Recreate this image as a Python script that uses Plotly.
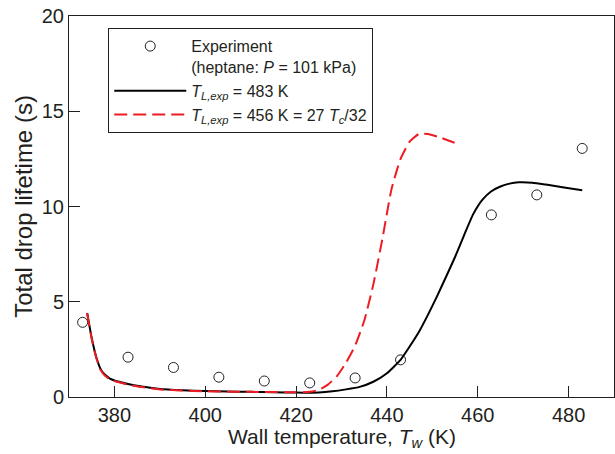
import plotly.graph_objects as go

# Experimental data (heptane, P = 101 kPa)
exp_T = [373, 383, 393, 403, 413, 423, 433, 443, 463, 473, 483]
exp_life = [3.92, 2.09, 1.55, 1.04, 0.84, 0.74, 1.0, 1.95, 9.56, 10.61, 13.05]

# Model, T_L,exp = 483 K
m483_T = [374, 375, 376, 377, 378, 379, 381, 383, 386, 390, 395, 400, 405, 410, 415,
          420, 425, 428, 431, 434, 437, 440, 443, 445, 447, 449, 451, 453, 455, 457,
          459, 461, 463, 465, 467, 469, 472, 475, 479, 483]
m483_life = [4.4, 3.1, 2.1, 1.45, 1.15, 0.97, 0.8, 0.68, 0.55, 0.42, 0.35, 0.31, 0.29,
             0.27, 0.25, 0.23, 0.24, 0.3, 0.4, 0.53, 0.8, 1.25, 1.95, 2.65, 3.4, 4.3,
             5.27, 6.3, 7.35, 8.5, 9.6, 10.35, 10.8, 11.05, 11.2, 11.27, 11.25, 11.15,
             11.0, 10.85]

# Model, T_L,exp = 456 K = 27 Tc/32
m456_T = [374, 375, 376, 377, 378, 379, 381, 383, 386, 390, 395, 400, 405, 410, 415,
          420, 423, 425, 427, 429, 431, 433, 435, 437, 439, 441, 443, 445, 447, 449,
          452, 456]
m456_life = [4.4, 3.05, 2.05, 1.4, 1.1, 0.93, 0.77, 0.65, 0.52, 0.4, 0.34, 0.3, 0.28,
             0.27, 0.26, 0.25, 0.27, 0.37, 0.65, 1.1, 1.8, 2.7, 4.0, 5.9, 8.3, 10.9,
             12.5, 13.4, 13.8, 13.8, 13.6, 13.25]

x_ticks = [380, 400, 420, 440, 460, 480]
y_ticks = [0, 5, 10, 15, 20]

INK = "#231f20"
RED = "#ed1c24"
FONT = "Liberation Sans, Arial, Helvetica, sans-serif"

fig = go.Figure()
fig.add_trace(go.Scatter(
    x=exp_T, y=exp_life, mode="markers",
    name="Experiment<br>(heptane: <i>P</i> = 101 kPa)",
    marker=dict(symbol="circle-open", size=10, color=INK, line=dict(width=1, color=INK)),
))
fig.add_trace(go.Scatter(
    x=m483_T, y=m483_life, mode="lines",
    name="<i>T</i><sub><i>L,exp</i></sub> = 483 K",
    line=dict(color="black", width=2, shape="spline", smoothing=0.5),
))
fig.add_trace(go.Scatter(
    x=m456_T, y=m456_life, mode="lines",
    name="<i>T</i><sub><i>L,exp</i></sub> = 456 K = 27 <i>T</i><sub><i>c</i></sub>/32",
    line=dict(color=RED, width=2, dash="13px,6px", shape="spline", smoothing=0.5),
))

fig.update_layout(
    width=615, height=454,
    margin=dict(l=69, r=1, t=16, b=57, autoexpand=False),
    paper_bgcolor="white", plot_bgcolor="white",
    font=dict(family=FONT, size=20, color=INK),
    showlegend=True,
    legend=dict(
        x=0.072, y=0.968, xanchor="left", yanchor="top",
        bgcolor="white", bordercolor=INK, borderwidth=1,
        font=dict(size=16, color=INK), valign="top",
        itemwidth=72, tracegroupgap=0,
    ),
    annotations=[dict(
        text="Wall temperature, <i>T</i><sub><i>w</i></sub> (K)",
        xref="paper", yref="paper", x=0.5, y=0, xanchor="center", yanchor="bottom",
        yshift=-56, showarrow=False, font=dict(size=21, color=INK),
    )],
)
fig.update_xaxes(
    range=[370, 490], tickvals=x_ticks, ticktext=[str(v) for v in x_ticks],
    ticks="inside", ticklen=11, tickwidth=1, tickcolor=INK,
    showline=True, linecolor=INK, linewidth=1, mirror=True,
    showgrid=False, zeroline=False, automargin=False,
)
fig.update_yaxes(
    range=[0, 20], tickvals=y_ticks, ticktext=[str(v) for v in y_ticks],
    ticks="inside", ticklen=11, tickwidth=1, tickcolor=INK,
    showline=True, linecolor=INK, linewidth=1, mirror=True,
    showgrid=False, zeroline=False, automargin=True,
    title=dict(text="Total drop lifetime (s)", standoff=2),
)

fig.write_html("out.html", config={"displayModeBar": False},
               post_script="document.body.style.margin='0';")
